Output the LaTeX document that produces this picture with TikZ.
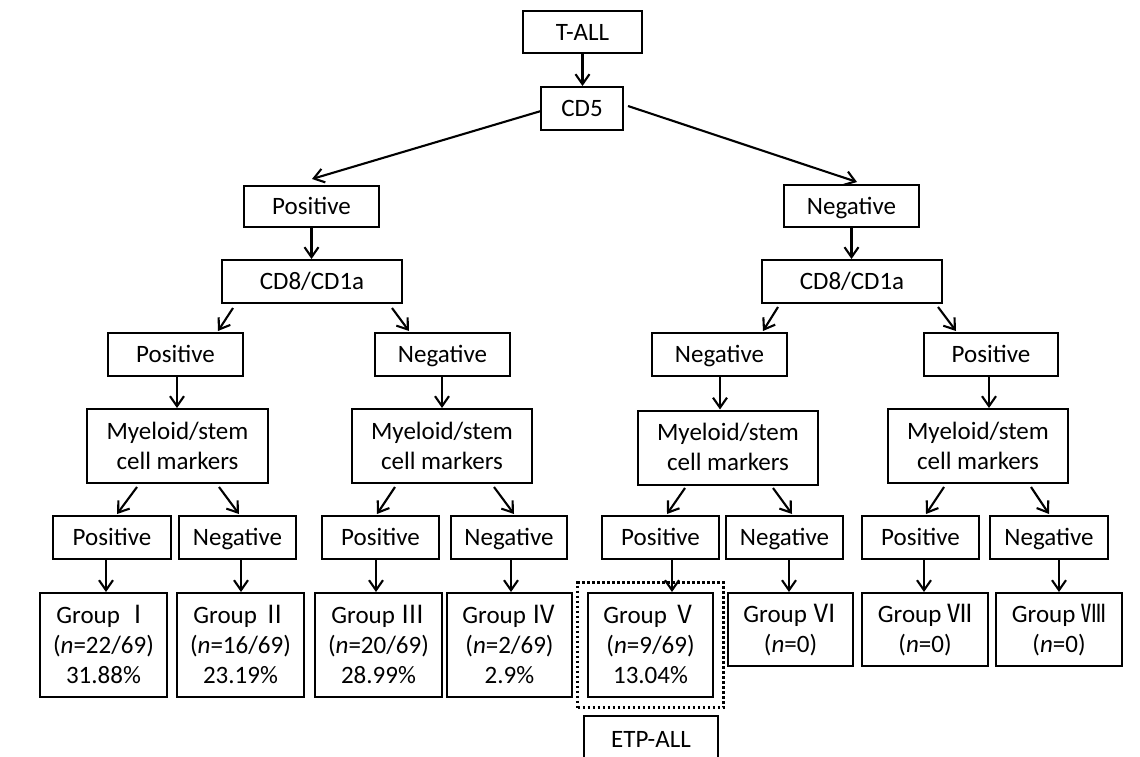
\documentclass[tikz,border=0pt]{standalone}
\usepackage{fontspec}
\setmainfont{Carlito}
\newfontfamily\cjk{Noto Sans CJK SC}
\usetikzlibrary{arrows.meta,calc,fit}
\newcommand\mlines[1]{\vbox{\halign{\hfil##\hfil\cr#1\crcr}}}
\begin{document}
\begin{tikzpicture}[x=1pt,y=-1pt,
  box/.style={draw, line width=2pt, rectangle, inner sep=0pt,
    font=\fontsize{25}{30}\selectfont, text depth=0pt, text height=16.5pt},
  box2/.style={box, text height=46.5pt},
  box3/.style={box, text height=76.5pt},
  arr/.style={line width=2.1pt, -{Straight Barb[length=10pt,width=14pt,line width=2.1pt]}},
  etpbox/.style={draw, line width=2.6pt, dash pattern=on 2.6pt off 2.4pt, inner sep=9.5pt}]
\useasboundingbox (0,0) rectangle (1140,757);
\clip (0,0) rectangle (1140,757);
% level 0-1
\node[box, minimum width=119pt, minimum height=42pt] (tall) at (582.5,32) {T-ALL};
\node[box, minimum width=82pt, minimum height=43pt] (cd5) at (582,108.5) {CD5};
% level 2
\node[box, minimum width=135pt, minimum height=41pt] (posA) at (311.5,206.5) {Positive};
\node[box, minimum width=135pt, minimum height=42pt] (negA) at (851.5,206) {Negative};
% level 3
\node[box, minimum width=180pt, minimum height=43pt] (cdL) at (312,281.5) {CD8/CD1a};
\node[box, minimum width=180pt, minimum height=43pt] (cdR) at (852,281.5) {CD8/CD1a};
% level 4
\node[box, minimum width=135pt, minimum height=43pt] (posL) at (175.5,354.5) {Positive};
\node[box, minimum width=135pt, minimum height=43pt] (negL) at (442.5,354.5) {Negative};
\node[box, minimum width=135pt, minimum height=43pt] (negR) at (719.5,354.5) {Negative};
\node[box, minimum width=134pt, minimum height=43pt] (posR) at (991,354.5) {Positive};
% level 5
\node[box2, minimum width=181pt, minimum height=74pt] (my1) at (177.5,446) {\mlines{Myeloid/stem\cr cell markers}};
\node[box2, minimum width=180pt, minimum height=74pt] (my2) at (442,446) {\mlines{Myeloid/stem\cr cell markers}};
\node[box2, minimum width=180pt, minimum height=74pt] (my3) at (728,447.5) {\mlines{Myeloid/stem\cr cell markers}};
\node[box2, minimum width=180pt, minimum height=74pt] (my4) at (978,446) {\mlines{Myeloid/stem\cr cell markers}};
% level 6
\node[box, minimum width=118pt, minimum height=43pt] (p1) at (112,537.5) {Positive};
\node[box, minimum width=117pt, minimum height=43pt] (n1) at (237.5,537.5) {Negative};
\node[box, minimum width=117pt, minimum height=43pt] (p2) at (380.5,537.5) {Positive};
\node[box, minimum width=116pt, minimum height=43pt] (n2) at (509,537.5) {Negative};
\node[box, minimum width=117pt, minimum height=43pt] (p3) at (660.5,537.5) {Positive};
\node[box, minimum width=117pt, minimum height=43pt] (n3) at (784.5,537.5) {Negative};
\node[box, minimum width=117pt, minimum height=43pt] (p4) at (920.5,537.5) {Positive};
\node[box, minimum width=118pt, minimum height=43pt] (n4) at (1049,537.5) {Negative};
% level 7
\node[box3, minimum width=127pt, minimum height=104pt] (g1) at (103.5,645) {\mlines{Group {\cjk Ⅰ}\cr(\textit{n}=22/69)\cr 31.88\%}};
\node[box3, minimum width=127pt, minimum height=104pt] (g2) at (240.5,645) {\mlines{Group {\cjk Ⅱ}\cr(\textit{n}=16/69)\cr 23.19\%}};
\node[box3, minimum width=127pt, minimum height=104pt] (g3) at (378.5,645) {\mlines{Group {\cjk Ⅲ}\cr(\textit{n}=20/69)\cr 28.99\%}};
\node[box3, minimum width=125pt, minimum height=104pt] (g4) at (509.5,645) {\mlines{Group {\cjk Ⅳ}\cr(\textit{n}=2/69)\cr 2.9\%}};
\node[box3, minimum width=125pt, minimum height=104pt] (g5) at (650.5,645) {\mlines{Group {\cjk Ⅴ}\cr(\textit{n}=9/69)\cr 13.04\%}};
\node[box2, minimum width=125pt, minimum height=73pt] (g6) at (790.5,629.5) {\mlines{Group {\cjk Ⅵ}\cr(\textit{n}=0)}};
\node[box2, minimum width=126pt, minimum height=73pt] (g7) at (925,629.5) {\mlines{Group {\cjk Ⅶ}\cr(\textit{n}=0)}};
\node[box2, minimum width=126pt, minimum height=73pt] (g8) at (1059,629.5) {\mlines{Group {\cjk Ⅷ}\cr(\textit{n}=0)}};
\node[etpbox, fit=(g5)] (etpfrm) {};
\node[box, minimum width=134pt, minimum height=46pt] (etp) at (651,739) {ETP-ALL};
% connectors
\draw[arr] (tall.south) -- (tall.south |- cd5.north);
\draw[arr] ($(cd5.west)+(1,2.5)$) -- ($(posA.north)+(0.5,-6)$);
\draw[arr] ($(cd5.east)+(4,-2.5)$) -- ($(negA.north)+(5.5,-2)$);
\draw[arr] (posA.south) -- (posA.south |- cdL.north);
\draw[arr] (negA.south) -- (negA.south |- cdR.north);
\draw[arr] ($(cdL.south)+(-79,4)$) -- ($(posL.north)+(42.5,-1)$);
\draw[arr] ($(cdL.south)+(80,4)$) -- ($(negL.north)+(-33.5,-1)$);
\draw[arr] ($(cdR.south)+(-74,3)$) -- ($(negR.north)+(43.5,-1)$);
\draw[arr] ($(cdR.south)+(86,3)$) -- ($(posR.north)+(-35,-1)$);
\draw[arr] ($(posL.south)+(1.5,0)$) -- ($(my1.north)+(-0.5,0)$);
\draw[arr] ($(negL.south)+(-0.5,0)$) -- (my2.north);
\draw[arr] ($(negR.south)+(0.5,0)$) -- ($(my3.north)+(-8,0)$);
\draw[arr] ($(posR.south)+(-2,0)$) -- ($(my4.north)+(11,0)$);
\draw[arr] ($(my1.south)+(-40.5,3)$) -- ($(p1.north)+(5,-1)$);
\draw[arr] ($(my1.south)+(41.5,3)$) -- ($(n1.north)+(1.5,-1)$);
\draw[arr] ($(my2.south)+(-47,3)$) -- ($(p2.north)+(-3.5,-1)$);
\draw[arr] ($(my2.south)+(52,3)$) -- ($(n2.north)+(5,-1)$);
\draw[arr] ($(my3.south)+(-43,2.5)$) -- ($(p3.north)+(6.5,-1)$);
\draw[arr] ($(my3.south)+(45,2.5)$) -- ($(n3.north)+(7.5,-1)$);
\draw[arr] ($(my4.south)+(-34,3)$) -- ($(p4.north)+(5.5,-1)$);
\draw[arr] ($(my4.south)+(53,3)$) -- ($(n4.north)+(0,-1)$);
\draw[arr] ($(p1.south)+(-6,0)$) -- ($(g1.north)+(2.5,0)$);
\draw[arr] ($(n1.south)+(3.5,0)$) -- ($(g2.north)+(0.5,0)$);
\draw[arr] ($(p2.south)+(-4.5,0)$) -- ($(g3.north)+(-2.5,0)$);
\draw[arr] ($(n2.south)+(2,0)$) -- ($(g4.north)+(1.5,0)$);
\draw[arr] ($(p3.south)+(11.5,0)$) -- ($(g5.north)+(21.5,0)$);
\draw[arr] ($(n3.south)+(4.5,0)$) -- ($(g6.north)+(-1.5,0)$);
\draw[arr] ($(p4.south)+(3.5,0)$) -- ($(g7.north)+(-1,0)$);
\draw[arr] ($(n4.south)+(10,0)$) -- (g8.north);
\end{tikzpicture}
\end{document}
